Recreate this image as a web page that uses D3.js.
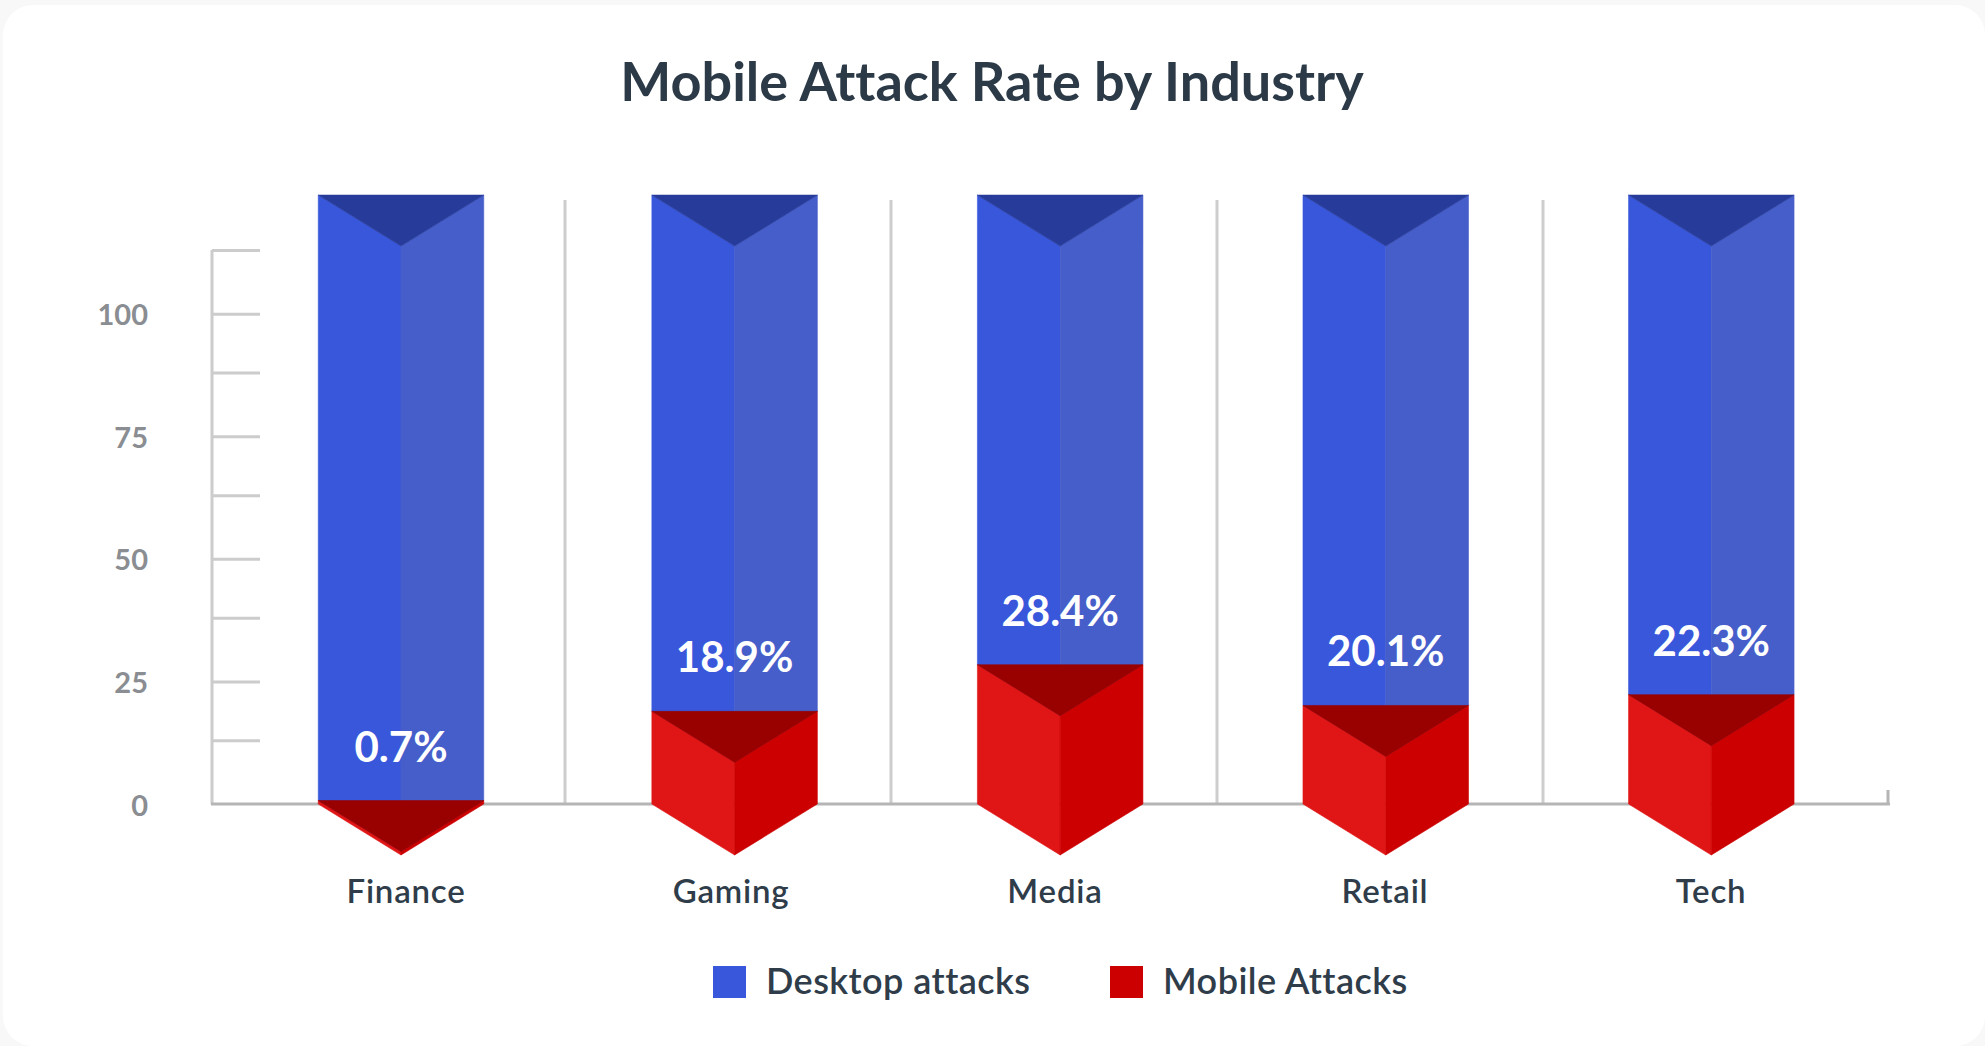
<!DOCTYPE html>
<html>
<head>
<meta charset="utf-8">
<title>Mobile Attack Rate by Industry</title>
<script src="https://cdn.jsdelivr.net/npm/d3@7"></script>
<style>
  html, body { margin: 0; padding: 0; background: #f8f8f8; overflow: hidden; }
  svg { display: block; }
  text { font-family: Lato, sans-serif; font-variant-ligatures: none; }
</style>
</head>
<body>
<svg id="chart" width="1985" height="1046"></svg>
<script>
// Chart data
const categories = ["Finance", "Gaming", "Media", "Retail", "Tech"];
const mobileAttacks = [0.7, 18.9, 28.4, 20.1, 22.3];
const desktopAttacks = [123.5, 105.3, 95.8, 104.1, 101.9];
const valueTicks = [0, 13, 25, 38, 50, 63, 75, 88, 100, 113];
const labelledTicks = [0, 25, 50, 75, 100];
const seriesNames = ["Desktop attacks", "Mobile Attacks"];

// Face colours of each prism: left, right, top
const desktopFaces = ["#3957db", "#465ec9", "#273b9a"];
const mobileFaces = ["#e01515", "#cc0000", "#990000"];

const width = 1985, height = 1046;
const axisLeft = 212, axisRight = 1890, baseY = 804, topTickY = 250;
const barWidth = 165.5, notch = 51;

const svg = d3.select("#chart");

// White rounded card
svg.append("rect")
  .attr("x", 3).attr("y", 5)
  .attr("width", width - 3).attr("height", height - 5)
  .attr("rx", 30).attr("fill", "#ffffff");

svg.append("text")
  .attr("x", 992).attr("y", 80)
  .attr("text-anchor", "middle").attr("dominant-baseline", "central")
  .attr("font-size", 54).attr("font-weight", 700).attr("fill", "#2c3a47")
  .text("Mobile Attack Rate by Industry");

const y = d3.scaleLinear().domain([0, 113]).range([baseY, topTickY]);
const x = d3.scaleLinear().domain([0, 1, 4]).range([401, 734.6, 1711.3]);
const categoryLabelX = d3.scaleLinear().domain([0, 1, 2, 3, 4]).range([406, 731, 1055, 1385, 1711]);
const bands = d3.scaleBand().domain(categories).range([239, 1869]);

// Category separators
svg.append("g").selectAll("line")
  .data(categories.slice(1))
  .join("line")
  .attr("x1", d => bands(d)).attr("x2", d => bands(d))
  .attr("y1", 200).attr("y2", baseY)
  .attr("stroke", "#cdcdcd").attr("stroke-width", 3);

// Value axis: short ticks pointing into the plot, every other one labelled
const yAxis = d3.axisLeft(y)
  .tickValues(valueTicks)
  .tickSize(-48)
  .tickPadding(64)
  .tickFormat(d => labelledTicks.includes(d) ? d : "");

const yAxisG = svg.append("g")
  .attr("transform", `translate(${axisLeft},0)`)
  .call(yAxis);
yAxisG.select(".domain")
  .attr("stroke", "#cccccc").attr("stroke-width", 3)
  .attr("d", `M0,${topTickY}V${baseY}`);
yAxisG.selectAll(".tick line").attr("stroke", "#cccccc").attr("stroke-width", 3);
yAxisG.selectAll(".tick").filter(d => d === 0).select("line").remove();
yAxisG.selectAll(".tick text")
  .attr("dy", "0.38em")
  .attr("font-size", 29).attr("font-weight", 700).attr("fill", "#8a8d91")
  .style("font-family", "Lato, sans-serif");

// Baseline with its closing tick at the right end
svg.append("path")
  .attr("d", `M${axisLeft - 1},${baseY}H${axisRight}M${axisRight - 2},${baseY}V${baseY - 14}`)
  .attr("fill", "none").attr("stroke", "#b5b5b5").attr("stroke-width", 3);

// Stacked prisms
const table = categories.map((c, i) => ({
  category: c, index: i, desktop: desktopAttacks[i], mobile: mobileAttacks[i]
}));
const stacked = d3.stack().keys(["mobile", "desktop"])(table);
const facesByKey = { mobile: mobileFaces, desktop: desktopFaces };
const line = d3.line();

// Desktop segments go first so the mobile segments sit in front of them
const drawOrder = [stacked[1], stacked[0]];
drawOrder.forEach(layer => {
  const faces = facesByKey[layer.key];
  const g = svg.append("g").attr("class", "series-" + layer.key);
  layer.forEach(seg => {
    const i = seg.data.index;
    const cx = x(i), x0 = cx - barWidth / 2, x1 = cx + barWidth / 2;
    const top = y(seg[1]), bottom = y(seg[0]);
    const polys = [
      [[x0, top], [cx, top + notch], [cx, bottom + notch], [x0, bottom]],
      [[x1, top], [cx, top + notch], [cx, bottom + notch], [x1, bottom]],
      [[x0, top], [x1, top], [cx, top + notch]]
    ];
    polys.forEach((p, k) => {
      g.append("path").attr("d", line(p) + "Z")
        .attr("fill", faces[k])
        // A hairline in the face colour closes the seam between adjoining faces
        .attr("stroke", faces[k]).attr("stroke-width", 0.6);
    });
  });
});

// Value labels above each mobile segment
svg.append("g").selectAll("text")
  .data(table)
  .join("text")
  .attr("x", d => x(d.index))
  .attr("y", d => y(d.mobile) - 55)
  .attr("text-anchor", "middle").attr("dominant-baseline", "central")
  .attr("font-size", 42).attr("font-weight", 700).attr("fill", "#ffffff")
  .text(d => d.mobile + "%");

// Category labels
svg.append("g").selectAll("text")
  .data(table)
  .join("text")
  .attr("x", d => categoryLabelX(d.index))
  .attr("y", 890)
  .attr("text-anchor", "middle").attr("dominant-baseline", "central")
  .attr("font-size", 33).attr("font-weight", 600).attr("letter-spacing", 0.8).attr("fill", "#2f3c4a")
  .text(d => d.category);

// Legend
const legendItems = [
  { name: seriesNames[0], color: desktopFaces[0], boxX: 713, textX: 766 },
  { name: seriesNames[1], color: mobileFaces[1], boxX: 1110, textX: 1163 }
];
const legend = svg.append("g").selectAll("g").data(legendItems).join("g");
legend.append("rect")
  .attr("x", d => d.boxX).attr("y", 966)
  .attr("width", 33).attr("height", 32)
  .attr("fill", d => d.color);
legend.append("text")
  .attr("x", d => d.textX).attr("y", 980)
  .attr("dominant-baseline", "central")
  .attr("font-size", 36).attr("font-weight", 600).attr("letter-spacing", 0.45).attr("fill", "#2f3c4a")
  .text(d => d.name);
</script>
</body>
</html>
